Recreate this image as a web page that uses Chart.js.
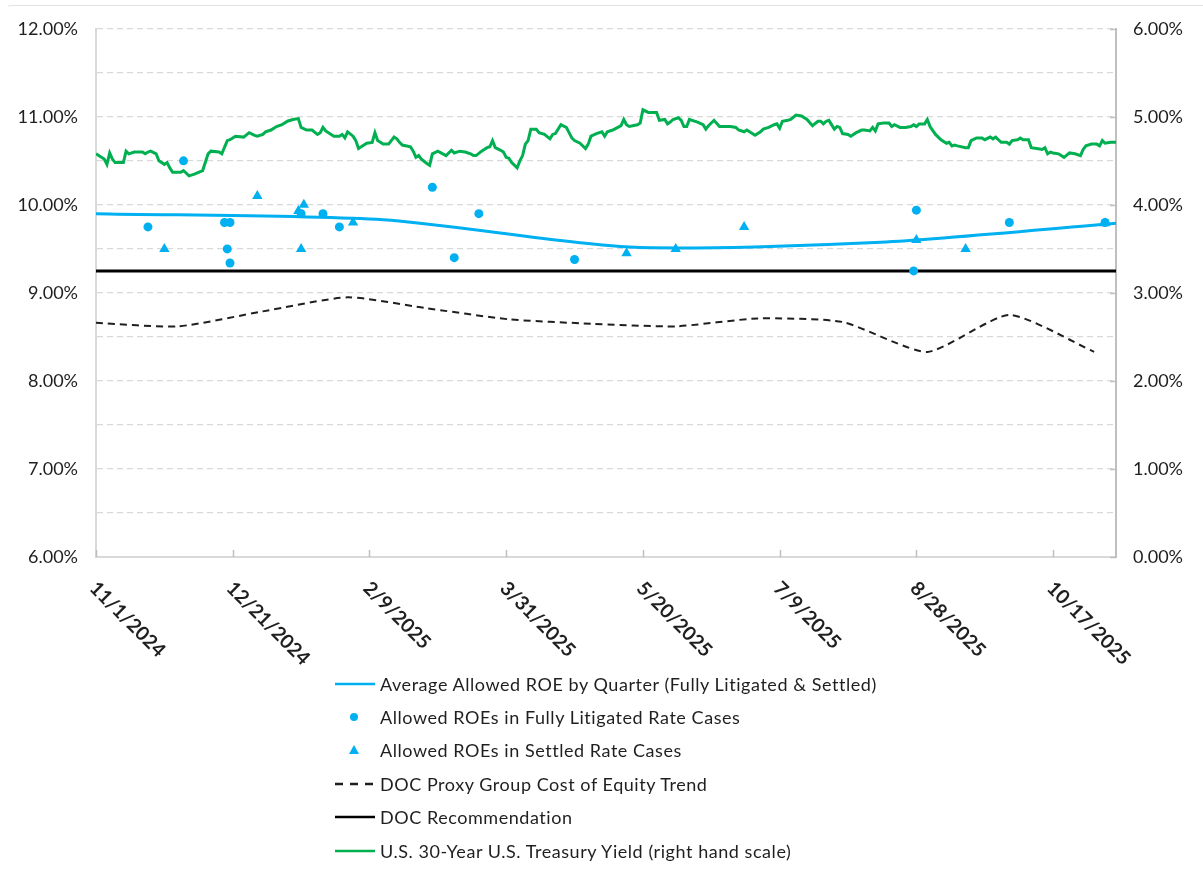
<!DOCTYPE html>
<html>
<head>
<meta charset="utf-8">
<script src="https://cdn.jsdelivr.net/npm/chart.js@4/dist/chart.umd.min.js"></script>
<style>
  html, body { margin: 0; padding: 0; background: #fff; }
  #wrap { position: relative; width: 1203px; height: 873px; overflow: hidden; }
  #frame { position: absolute; left: 7px; top: 5px; right: -4px; height: 900px; border: 1px solid #e2e2e2; border-radius: 4px; box-sizing: border-box; pointer-events: none; border-left-color: transparent; }
  #chart { position: absolute; left: 0; top: 0; }
  #legend { position: absolute; left: 335px; top: 667px; font-family: Lato, "Open Sans", sans-serif; font-size: 18px; letter-spacing: 0.55px; color: #1f1f1f; }
  .row { height: 33.4px; display: flex; align-items: center; white-space: nowrap; }
  .row svg { width: 40px; height: 16px; margin-right: 5px; flex: none; }
</style>
</head>
<body>
<div id="wrap">
  <div id="frame"></div>
  <canvas id="chart" width="1203" height="873"></canvas>
  <div id="legend"></div>
</div>
<script>
// x values are days counted from the start date 11/1/2024
const START = { year: 2024, month: 10, day: 1 };
const X_MAX = 373;
const X_TICK_DAYS = [0, 50, 100, 150, 200, 250, 300, 350];
const PLOT_TOP = 25;

// Average allowed ROE by quarter (%)
const avgDays   = [0, 105, 195, 287, 373];
const avgValues = [9.90, 9.83, 9.52, 9.575, 9.79];

// Allowed ROEs in fully litigated rate cases (%)
const litDays   = [19, 32, 47, 49, 48, 49, 75, 83, 89, 123, 131, 140, 175, 299, 300, 334, 369];
const litValues = [9.75, 10.50, 9.80, 9.80, 9.50, 9.34, 9.90, 9.90, 9.75, 10.20, 9.40, 9.90, 9.38, 9.25, 9.94, 9.80, 9.80];

// Allowed ROEs in settled rate cases (%)
const setDays   = [25, 59, 74, 75, 76, 94, 194, 212, 237, 300, 318, 369];
const setValues = [9.50, 10.10, 9.93, 9.50, 10.00, 9.80, 9.45, 9.50, 9.75, 9.60, 9.50, 9.79];

// DOC proxy group cost of equity trend (%)
const proxyDays   = [0, 30, 61, 92, 120, 151, 181, 212, 242, 273, 304, 334, 365];
const proxyValues = [8.66, 8.62, 8.79, 8.95, 8.83, 8.70, 8.65, 8.62, 8.71, 8.67, 8.33, 8.75, 8.33];

// DOC recommendation (%)
const docDays   = [0, 373];
const docValues = [9.25, 9.25];

// U.S. 30-year Treasury yield (%), right hand scale
const tsyDays = [
  0,3,4,5,6,7,9,10,11,12,14,17,18,19,20,22,23,25,26,27,28,31,32,34,36,39,41,42,45,46,
  48,49,51,54,56,58,59,61,62,64,66,68,70,72,74,75,77,79,81,82,83,84,86,87,89,90,91,92,94,95,
  96,98,99,101,102,103,105,107,109,110,111,112,115,116,117,118,119,121,122,123,125,128,130,131,133,135,137,138,139,141,
  143,144,145,146,148,149,150,151,152,154,155,156,157,158,159,161,162,164,166,167,168,170,172,173,174,175,177,179,180,181,
  183,185,186,187,189,192,193,194,195,198,199,200,202,205,206,208,209,210,211,213,214,215,216,217,218,220,222,223,224,225,
  226,228,229,232,234,235,237,238,239,241,243,244,246,248,249,250,251,253,254,256,258,260,262,264,265,266,267,268,270,271,
  272,273,275,276,278,280,281,283,284,285,286,288,290,291,292,294,296,298,299,300,301,303,304,305,307,309,311,312,313,314,
  315,318,319,320,322,324,325,327,328,329,330,331,333,334,335,337,338,339,341,342,344,346,347,348,349,350,352,354,356,358,
  360,361,362,364,366,367,368,369,371,373
];
const tsyValues = [
  4.58,4.52,4.46,4.59,4.52,4.48,4.48,4.48,4.61,4.58,4.60,4.60,4.58,4.60,4.61,4.58,4.50,4.46,4.48,4.42,4.37,4.37,4.39,4.33,4.35,4.39,4.58,4.61,4.60,4.58,
  4.73,4.74,4.78,4.77,4.82,4.79,4.78,4.80,4.83,4.85,4.89,4.91,4.95,4.97,4.98,4.88,4.85,4.85,4.80,4.82,4.88,4.84,4.80,4.78,4.78,4.80,4.76,4.83,4.78,4.73,
  4.64,4.68,4.70,4.71,4.82,4.73,4.69,4.69,4.77,4.75,4.71,4.68,4.66,4.61,4.54,4.56,4.52,4.47,4.45,4.58,4.61,4.56,4.62,4.59,4.61,4.60,4.58,4.56,4.56,4.61,
  4.65,4.66,4.73,4.65,4.62,4.60,4.54,4.53,4.48,4.42,4.50,4.56,4.69,4.73,4.86,4.86,4.82,4.80,4.75,4.80,4.81,4.91,4.88,4.82,4.76,4.73,4.70,4.64,4.69,4.78,
  4.81,4.83,4.78,4.83,4.85,4.90,4.97,4.91,4.89,4.91,4.93,5.08,5.05,5.05,4.96,4.97,4.92,4.94,4.97,4.99,4.96,4.89,4.89,4.97,4.96,4.94,4.91,4.86,4.90,4.93,
  4.96,4.89,4.89,4.89,4.88,4.85,4.83,4.85,4.83,4.79,4.83,4.86,4.88,4.91,4.92,4.87,4.95,4.96,4.97,5.02,5.01,4.97,4.90,4.95,4.95,4.92,4.95,4.96,4.86,4.89,
  4.88,4.81,4.80,4.78,4.82,4.85,4.85,4.84,4.88,4.84,4.92,4.93,4.93,4.89,4.91,4.88,4.88,4.89,4.91,4.89,4.92,4.92,4.97,4.89,4.80,4.74,4.70,4.71,4.67,4.68,
  4.67,4.65,4.65,4.73,4.76,4.76,4.74,4.77,4.75,4.77,4.74,4.71,4.71,4.69,4.73,4.74,4.76,4.74,4.74,4.65,4.64,4.63,4.65,4.58,4.60,4.59,4.58,4.54,4.59,4.58,
  4.56,4.63,4.67,4.69,4.69,4.67,4.73,4.70,4.71,4.71
];

const LEGEND_LABELS = [
  'Average Allowed ROE by Quarter (Fully Litigated & Settled)',
  'Allowed ROEs in Fully Litigated Rate Cases',
  'Allowed ROEs in Settled Rate Cases',
  'DOC Proxy Group Cost of Equity Trend',
  'DOC Recommendation',
  'U.S. 30-Year U.S. Treasury Yield (right hand scale)'
];

const BLUE = '#00B0F0';
const GREEN = '#00B050';
const INK = '#1f1f1f';
const FONT = 'Lato, "Open Sans", sans-serif';

const pts = (xs, ys) => xs.map((d, i) => ({ x: d, y: ys[i] }));

function dayLabel(d) {
  const dt = new Date(START.year, START.month, START.day + d);
  return (dt.getMonth() + 1) + '/' + dt.getDate() + '/' + dt.getFullYear();
}

// Rotated date labels and inside tick marks
const axisDecor = {
  id: 'axisDecor',
  afterDraw(chart) {
    const { ctx, chartArea, scales } = chart;
    const x = scales.x, y2 = scales.y2;
    ctx.save();
    ctx.strokeStyle = '#bfbfbf';
    ctx.lineWidth = 1.5;
    x.ticks.forEach(t => {
      const px = Math.round(x.getPixelForValue(t.value)) + 0.5;
      ctx.beginPath();
      ctx.moveTo(px, chartArea.bottom);
      ctx.lineTo(px, chartArea.bottom - 7);
      ctx.stroke();
    });
    y2.ticks.forEach(t => {
      const py = Math.round(y2.getPixelForValue(t.value)) + 0.5;
      ctx.beginPath();
      ctx.moveTo(chartArea.right, py);
      ctx.lineTo(chartArea.right - 6, py);
      ctx.stroke();
    });
    ctx.fillStyle = INK;
    ctx.font = 'bold 19.5px ' + FONT;
    ctx.textAlign = 'left';
    ctx.textBaseline = 'middle';
    x.ticks.forEach(t => {
      const px = x.getPixelForValue(t.value);
      ctx.save();
      ctx.translate(px - 3, chartArea.bottom + 28);
      ctx.rotate(Math.PI / 4);
      ctx.fillText(dayLabel(t.value), 0, 0);
      ctx.restore();
    });
    ctx.restore();
  }
};

const chart = new Chart(document.getElementById('chart'), {
  type: 'line',
  data: {
    datasets: [
      { label: LEGEND_LABELS[0], data: pts(avgDays, avgValues), yAxisID: 'y',
        borderColor: BLUE, borderWidth: 3, pointRadius: 0, tension: 0.25, order: 3 },
      { label: LEGEND_LABELS[1], type: 'scatter', data: pts(litDays, litValues), yAxisID: 'y',
        showLine: false, pointStyle: 'circle', pointRadius: 4.5, pointBackgroundColor: BLUE,
        pointBorderWidth: 0, order: 1 },
      { label: LEGEND_LABELS[2], type: 'scatter', data: pts(setDays, setValues), yAxisID: 'y',
        showLine: false, pointStyle: 'triangle', pointRadius: 6, pointBackgroundColor: BLUE,
        pointBorderWidth: 0, order: 2 },
      { label: LEGEND_LABELS[3], data: pts(proxyDays, proxyValues), yAxisID: 'y',
        borderColor: INK, borderWidth: 2, borderDash: [7, 5], pointRadius: 0, tension: 0.2, order: 4 },
      { label: LEGEND_LABELS[4], data: pts(docDays, docValues), yAxisID: 'y',
        borderColor: '#000', borderWidth: 3, pointRadius: 0, order: 5 },
      { label: LEGEND_LABELS[5], data: pts(tsyDays, tsyValues), yAxisID: 'y2',
        borderColor: GREEN, borderWidth: 3, pointRadius: 0, tension: 0, order: 6 }
    ]
  },
  options: {
    responsive: false,
    animation: false,
    events: [],
    layout: { autoPadding: false, padding: { top: PLOT_TOP, left: 0, right: 0, bottom: 0 } },
    plugins: { legend: { display: false }, tooltip: { enabled: false } },
    scales: {
      x: {
        type: 'linear', min: 0, max: X_MAX,
        afterBuildTicks(s) { s.ticks = X_TICK_DAYS.map(v => ({ value: v })); },
        afterFit(s) { s.height = 316; },
        ticks: { display: false },
        grid: { display: false },
        border: { display: true, color: '#d9d9d9', width: 2 }
      },
      y: {
        position: 'left', min: 6, max: 12,
        afterFit(s) { s.width = 96; },
        ticks: {
          stepSize: 0.5, autoSkip: false, padding: 18, color: INK,
          font: { family: FONT, size: 18 },
          callback: v => (Math.abs(v - Math.round(v)) < 1e-9 ? v.toFixed(2) + '%' : '')
        },
        grid: { color: '#d9d9d9', lineWidth: 1.3, drawTicks: false },
        border: { display: true, color: '#d9d9d9', width: 2, dash: [6, 4] }
      },
      y2: {
        position: 'right', min: 0, max: 6,
        afterFit(s) { s.width = 87; },
        ticks: {
          stepSize: 1, padding: 17, color: INK,
          font: { family: FONT, size: 18 },
          callback: v => v.toFixed(2) + '%'
        },
        grid: { drawOnChartArea: false, drawTicks: false },
        border: { display: true, color: '#bfbfbf', width: 2 }
      }
    }
  },
  plugins: [axisDecor]
});

// Keep the plot area's top edge at PLOT_TOP
const topShift = chart.chartArea.top - PLOT_TOP;
if (Math.abs(topShift) > 0.5) {
  chart.options.layout.padding.top = PLOT_TOP - topShift;
  chart.update();
}

// Legend built from the chart's datasets
(function buildLegend() {
  const ns = 'http://www.w3.org/2000/svg';
  const host = document.getElementById('legend');
  chart.data.datasets.forEach((ds, i) => {
    const row = document.createElement('div');
    row.className = 'row';
    const svg = document.createElementNS(ns, 'svg');
    svg.setAttribute('viewBox', '0 0 40 16');
    let el;
    if (ds.pointStyle === 'circle') {
      el = document.createElementNS(ns, 'circle');
      el.setAttribute('cx', 19); el.setAttribute('cy', 8); el.setAttribute('r', 4);
      el.setAttribute('fill', ds.pointBackgroundColor);
    } else if (ds.pointStyle === 'triangle') {
      el = document.createElementNS(ns, 'polygon');
      el.setAttribute('points', '19,3 24,12 14,12');
      el.setAttribute('fill', ds.pointBackgroundColor);
    } else {
      el = document.createElementNS(ns, 'line');
      el.setAttribute('x1', 0); el.setAttribute('y1', 8);
      el.setAttribute('x2', 40); el.setAttribute('y2', 8);
      el.setAttribute('stroke', ds.borderColor);
      el.setAttribute('stroke-width', 2.5);
      if (ds.borderDash) el.setAttribute('stroke-dasharray', '8 7');
    }
    svg.appendChild(el);
    row.appendChild(svg);
    const span = document.createElement('span');
    span.textContent = ds.label;
    row.appendChild(span);
    host.appendChild(row);
  });
})();
</script>
</body>
</html>
